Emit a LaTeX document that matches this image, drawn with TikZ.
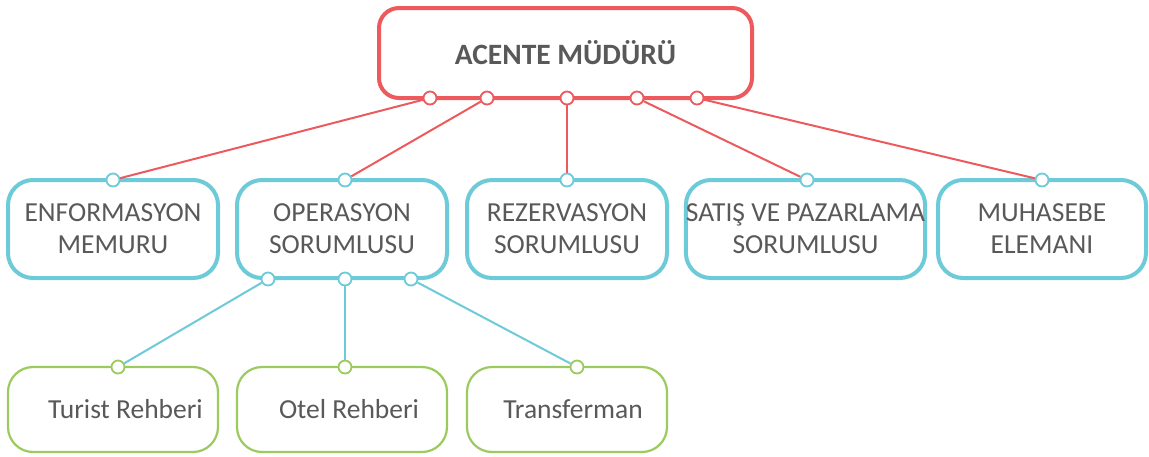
\documentclass[tikz,border=0pt]{standalone}
\usepackage{fontspec}
\setmainfont{Carlito}

\definecolor{headred}{HTML}{EC5A5E}
\definecolor{staffblue}{HTML}{6DCAD8}
\definecolor{subgreen}{HTML}{9BCA5E}
\definecolor{textgray}{HTML}{595959}

\begin{document}
\begin{tikzpicture}[
    x=1pt, y=-1pt,
    head/.style={rectangle, draw=headred, line width=4pt, fill=white, rounded corners=20pt, minimum width=373pt, minimum height=90pt, text=textgray, font=\fontsize{29.5}{34}\selectfont\bfseries},
    staff/.style={rectangle, draw=staffblue, line width=4pt, fill=white, rounded corners=25pt, minimum height=98pt, inner xsep=0pt, align=center, text=textgray, font=\fontsize{27.5}{32}\selectfont},
    sub/.style={rectangle, draw=subgreen, line width=2.2pt, fill=white, rounded corners=25pt, minimum width=210pt, minimum height=85pt, text=textgray, font=\fontsize{27.5}{30}\selectfont},
    pin/.style={circle, draw=#1, line width=1.8pt, fill=white, inner sep=0pt, minimum size=13pt},
    redlink/.style={draw=headred, line width=2pt},
    bluelink/.style={draw=staffblue, line width=2pt}
]

\useasboundingbox (0,0) rectangle (1149,456);

\node[head] (chief) at (565.5,53) {ACENTE MÜDÜRÜ};

\node[staff, minimum width=210pt] (info) at (113,229) {ENFORMASYON\\MEMURU};
\node[staff, minimum width=210pt] (oper) at (342,229) {OPERASYON\\SORUMLUSU};
\node[staff, minimum width=200pt] (rez) at (567,229) {REZERVASYON\\SORUMLUSU};
\node[staff, minimum width=235pt] (sales) at (805.5,229) {SATIŞ VE PAZARLAMA\\SORUMLUSU};
\node[staff, minimum width=208pt] (acc) at (1042,229) {MUHASEBE\\ELEMANI};

\node[sub] (guide) at (113,409.5) {\hspace*{25pt}Turist Rehberi};
\node[sub] (hotel) at (342,409.5) {\hspace*{14pt}Otel Rehberi};
\node[sub, minimum width=200pt] (trans) at (567,409.5) {\hspace*{12pt}Transferman};

\node[pin=headred] (c1) at (430,98) {};
\node[pin=headred] (c2) at (487,98) {};
\node[pin=headred] (c3) at (567,98) {};
\node[pin=headred] (c4) at (637,98) {};
\node[pin=headred] (c5) at (697,98) {};

\node[pin=staffblue] (s1) at (113,180) {};
\node[pin=staffblue] (s2) at (345,180) {};
\node[pin=staffblue] (s3) at (567,180) {};
\node[pin=staffblue] (s4) at (807,180) {};
\node[pin=staffblue] (s5) at (1042,180) {};

\node[pin=staffblue] (o1) at (268,279) {};
\node[pin=staffblue] (o2) at (345,279) {};
\node[pin=staffblue] (o3) at (411,279) {};

\node[pin=subgreen] (g1) at (118,367) {};
\node[pin=subgreen] (g2) at (345,367) {};
\node[pin=subgreen] (g3) at (577,367) {};

\draw[redlink] (c1) -- (s1);
\draw[redlink] (c2) -- (s2);
\draw[redlink] (c3) -- (s3);
\draw[redlink] (c4) -- (s4);
\draw[redlink] (c5) -- (s5);

\draw[bluelink] (o1) -- (g1);
\draw[bluelink] (o2) -- (g2);
\draw[bluelink] (o3) -- (g3);

\end{tikzpicture}
\end{document}
